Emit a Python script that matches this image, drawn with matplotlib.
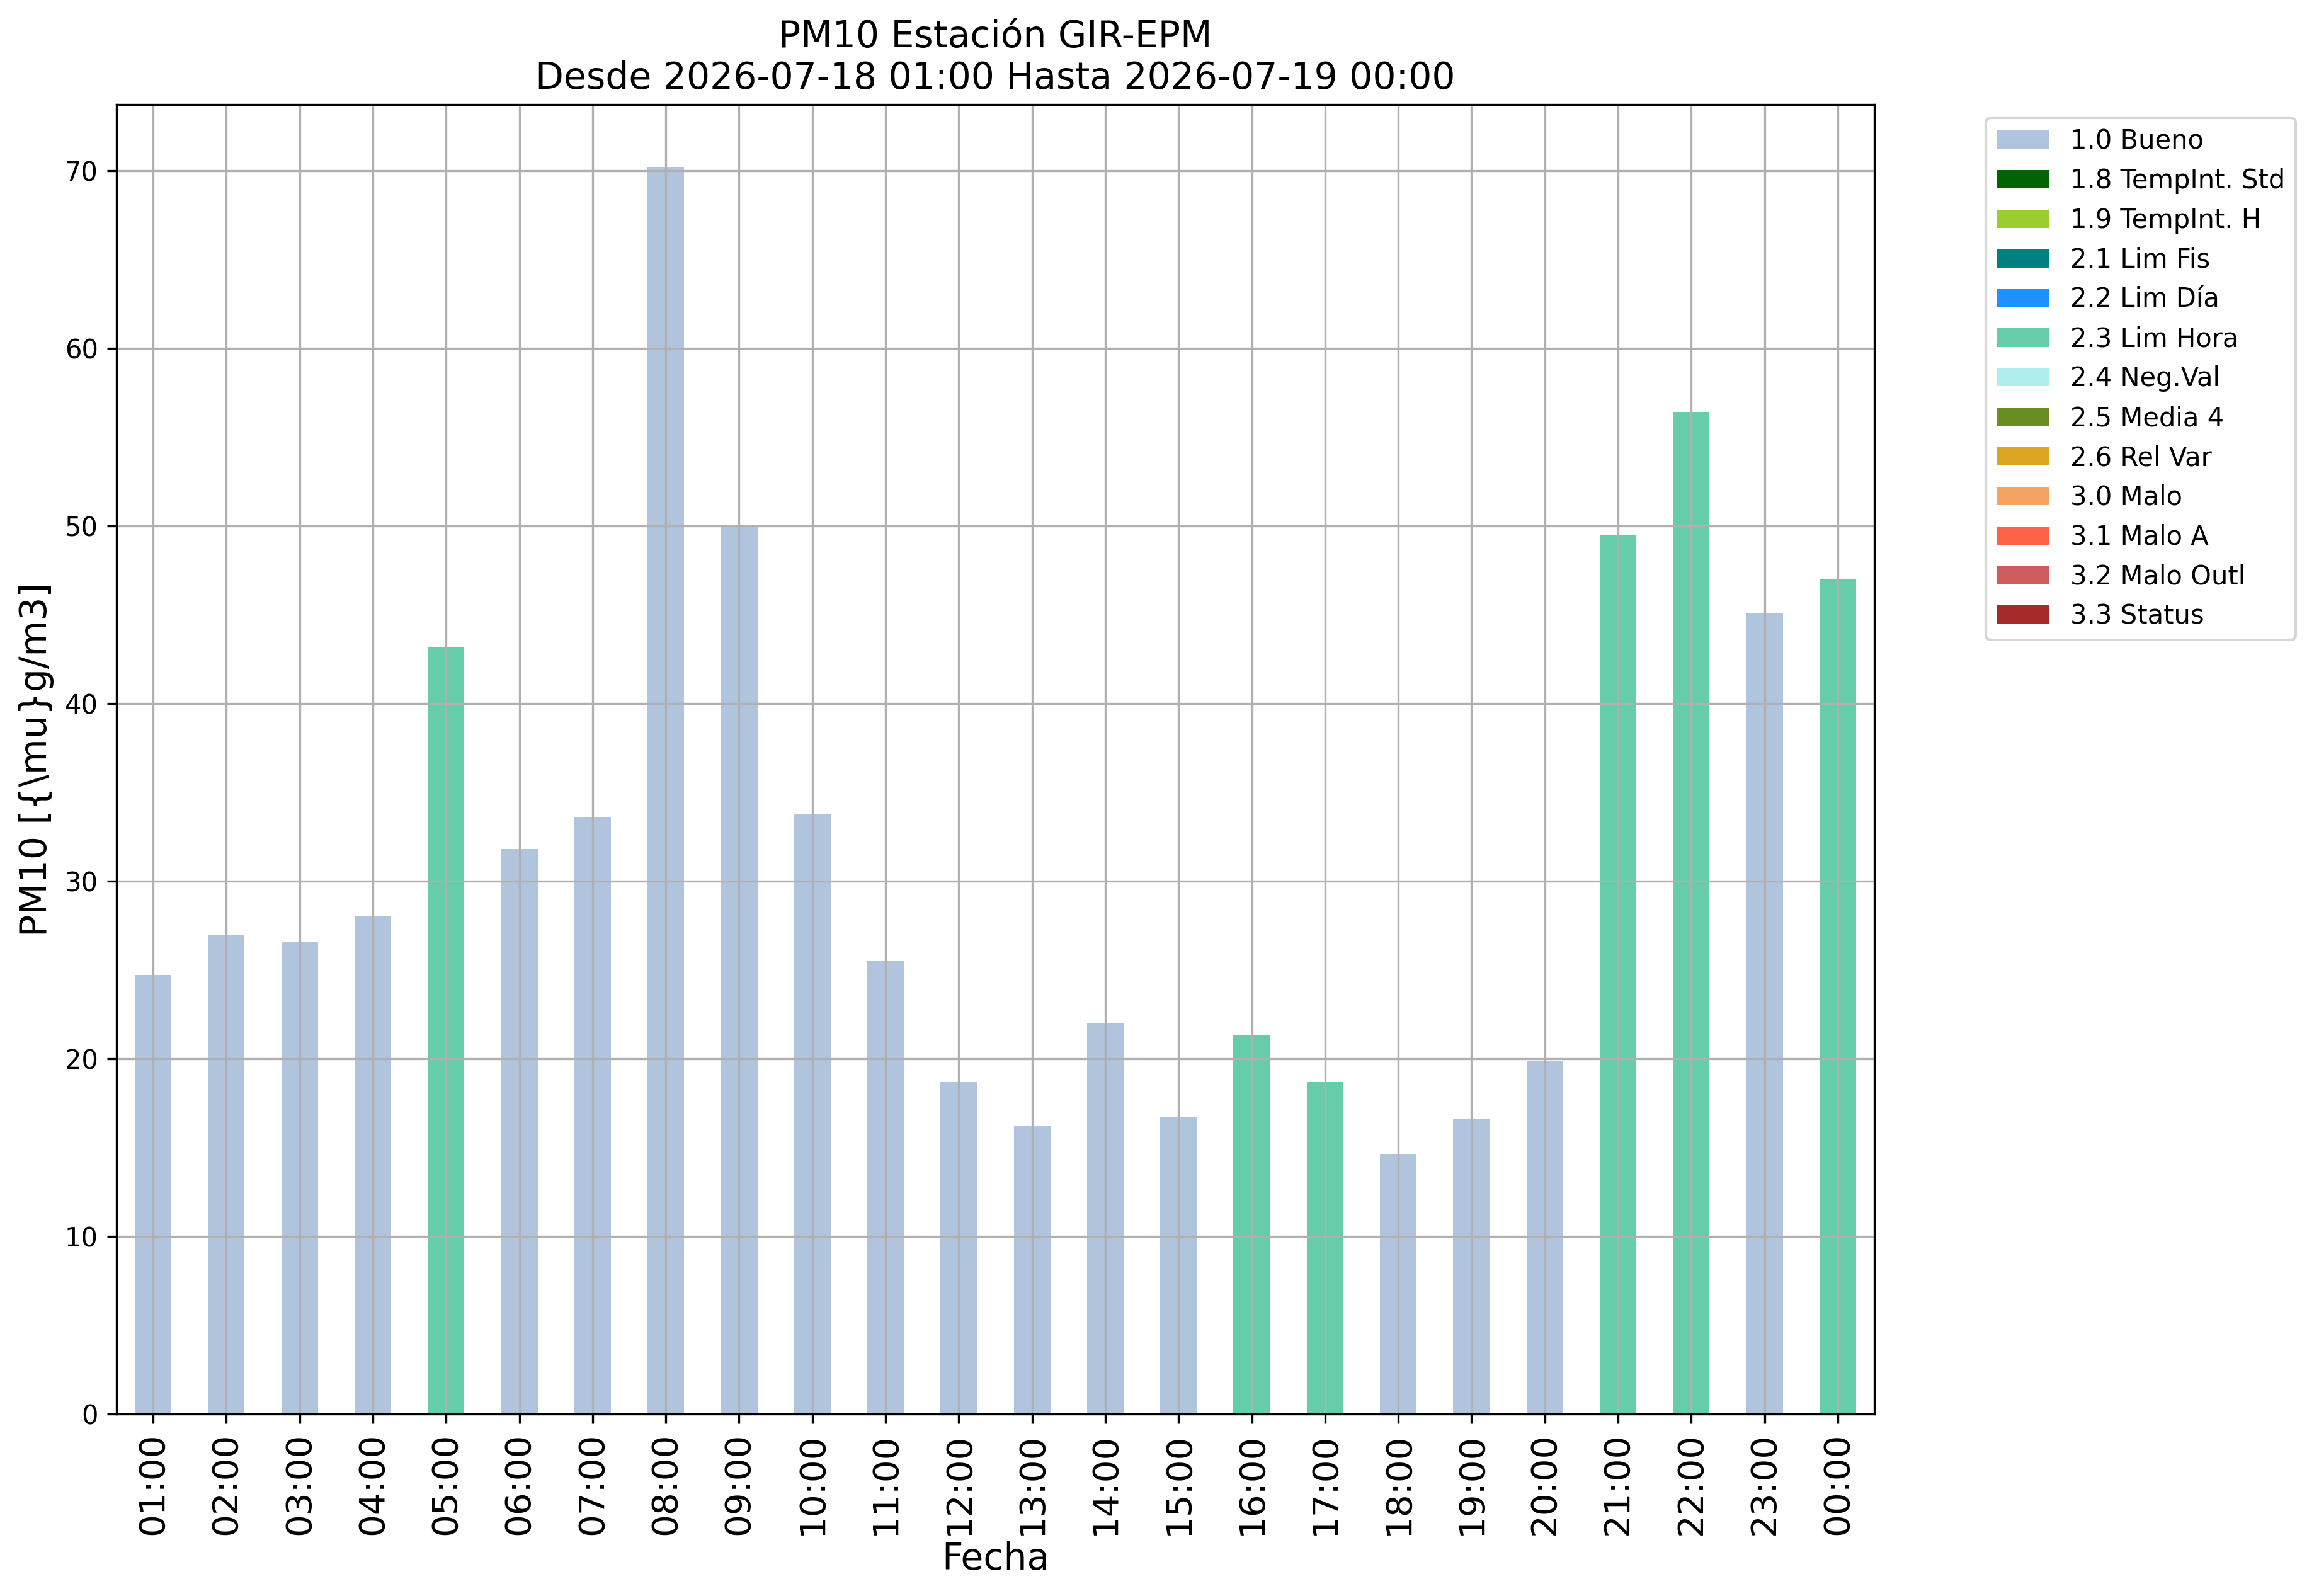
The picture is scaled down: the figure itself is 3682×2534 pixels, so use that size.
import matplotlib
matplotlib.use("Agg")
import matplotlib.pyplot as plt
import numpy as np

# ---------------- DATA ----------------
horas = ["01:00", "02:00", "03:00", "04:00", "05:00", "06:00", "07:00", "08:00",
         "09:00", "10:00", "11:00", "12:00", "13:00", "14:00", "15:00", "16:00",
         "17:00", "18:00", "19:00", "20:00", "21:00", "22:00", "23:00", "00:00"]

pm10 = [24.7, 27.0, 26.6, 28.0, 43.2, 31.8, 33.6, 70.2,
        50.0, 33.8, 25.5, 18.7, 16.2, 22.0, 16.7, 21.3,
        18.7, 14.6, 16.6, 19.9, 49.5, 56.4, 45.1, 47.0]

# flag of each hour
bandera = ["1.0", "1.0", "1.0", "1.0", "2.3", "1.0", "1.0", "1.0",
           "1.0", "1.0", "1.0", "1.0", "1.0", "1.0", "1.0", "2.3",
           "2.3", "1.0", "1.0", "1.0", "2.3", "2.3", "1.0", "2.3"]

codigos = ["1.0", "1.8", "1.9", "2.1", "2.2", "2.3", "2.4",
           "2.5", "2.6", "3.0", "3.1", "3.2", "3.3"]
nombres = ["Bueno", "TempInt. Std", "TempInt. H", "Lim Fis", "Lim Día", "Lim Hora",
           "Neg.Val", "Media 4", "Rel Var", "Malo", "Malo A", "Malo Outl", "Status"]
colores = ["lightsteelblue", "darkgreen", "yellowgreen", "teal", "dodgerblue",
           "mediumaquamarine", "paleturquoise", "olivedrab", "goldenrod",
           "sandybrown", "tomato", "indianred", "brown"]

# ---------------- PLOT ----------------
fig = plt.figure(figsize=(3682 / 300, 2534 / 300), dpi=300)
ax = fig.add_axes([0.0502, 0.1140, 0.7581, 0.8205])

x = np.arange(len(horas))
valores = np.array(pm10)
banderas = np.array(bandera)
fondo = np.zeros(len(horas))
for cod, nom, col in zip(codigos, nombres, colores):
    alto = np.where(banderas == cod, valores, 0.0)
    ax.bar(x, alto, 0.5, bottom=fondo, color=col, label=cod + " " + nom)
    fondo = fondo + alto

ax.set_xlim(-0.5, len(horas) - 0.5)
ax.set_ylim(0, valores.max() * 1.05)
ax.set_xticks(x)
ax.set_xticklabels(horas, rotation=90, fontsize=13.5)
ax.tick_params(axis="y", labelsize=10)
ax.grid(True)

ax.set_title("PM10 Estación GIR-EPM\nDesde 2026-07-18 01:00 Hasta 2026-07-19 00:00",
             fontsize=14)
ax.set_xlabel("Fecha", fontsize=14, labelpad=2.4)
ax.set_ylabel("PM10 [{\\mu}g/m3]", fontsize=14)

ax.legend(bbox_to_anchor=(1.056, 1), loc="upper left", fontsize=10)

fig.savefig("out.png", dpi=300)
